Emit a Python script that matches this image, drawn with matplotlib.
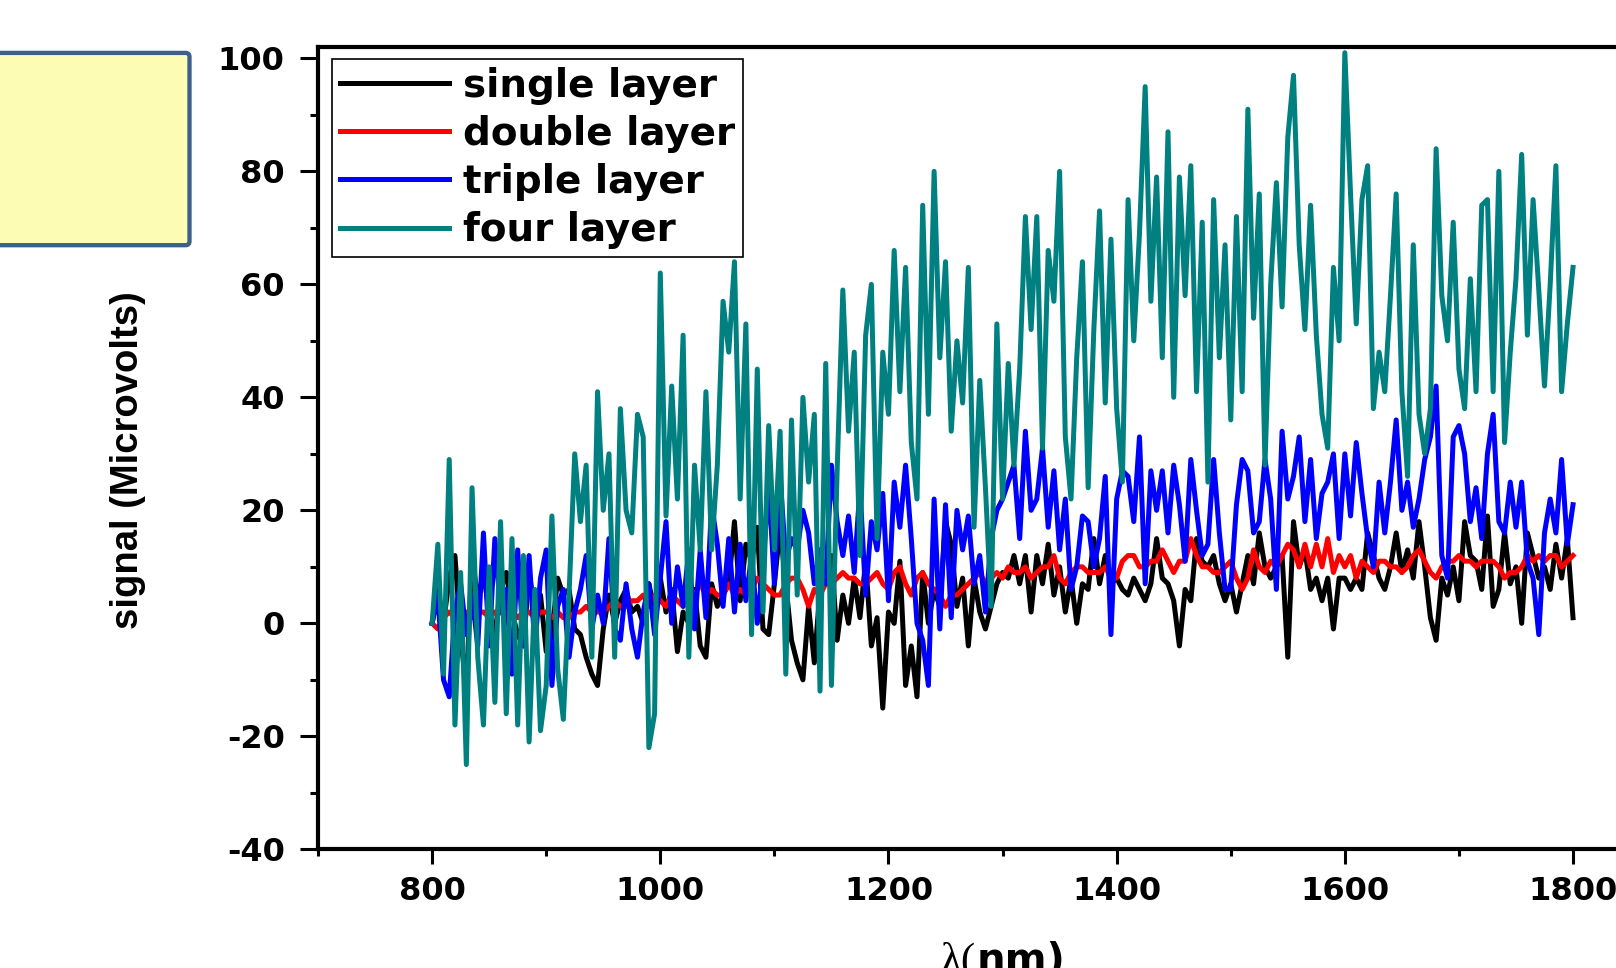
import numpy as np
import matplotlib
matplotlib.use("Agg")
import matplotlib.pyplot as plt
from matplotlib.ticker import MultipleLocator
from matplotlib.patches import FancyBboxPatch

# wavelength grid (nm), values every 5 nm
wavelength = np.arange(800, 1801, 5)

single_layer = [
    0, 6, 0, 8, 12, -2, -12, 12, 4, 9,
    2, -2, 6, 9, 2, -2, -4, 9, 2, 5,
    -5, -2, 8, 5, 6, -1, -2, -6, -9, -11,
    -1, 5, 0, 4, 6, 2, 3, 0, 7, 2,
    8, 2, 6, -5, 2, 0, 6, -4, -6, 7,
    3, 5, 7, 18, 4, 14, 11, 17, -1, -2,
    7, 17, 7, -3, -7, -10, 3, -7, 6, 7,
    12, -3, 5, 0, 8, 1, 11, -4, 1, -15,
    2, 0, 11, -11, -4, -13, 9, 0, 6, 3,
    18, 14, 3, 8, -4, 8, 2, -1, 3, 7,
    9, 8, 12, 7, 12, 2, 12, 7, 14, 5,
    10, 2, 8, 0, 7, 6, 15, 7, 12, 7,
    8, 6, 5, 8, 6, 4, 7, 15, 8, 7,
    4, -4, 6, 4, 15, 11, 10, 12, 7, 4,
    7, 2, 7, 12, 7, 16, 10, 8, 10, 12,
    -6, 18, 10, 13, 6, 8, 4, 8, -1, 8,
    8, 6, 8, 6, 16, 12, 8, 6, 10, 16,
    9, 13, 8, 18, 10, 1, -3, 8, 5, 10,
    4, 18, 12, 11, 6, 19, 3, 6, 16, 7,
    10, 0, 16, 12, 8, 10, 6, 14, 8, 15,
    1,
]

double_layer = [
    0, -1, 1, 2, 1, 0, 2, 1, 2, 2,
    1, 2, 2, 1, 2, 1, 2, 2, 1, 2,
    2, 1, 2, 1, 1, 2, 2, 3, 2, 2,
    2, 3, 4, 3, 3, 4, 4, 5, 3, 5,
    4, 3, 5, 4, 3, 5, 5, 7, 5, 6,
    5, 5, 7, 5, 6, 5, 6, 8, 7, 6,
    5, 5, 7, 8, 8, 6, 3, 6, 5, 7,
    7, 8, 9, 8, 8, 7, 7, 8, 9, 7,
    6, 9, 10, 7, 5, 8, 9, 7, 6, 5,
    3, 5, 5, 6, 7, 8, 9, 7, 8, 9,
    8, 10, 9, 9, 10, 8, 9, 10, 10, 12,
    8, 7, 9, 10, 10, 9, 9, 9, 10, 8,
    8, 11, 12, 12, 10, 10, 11, 11, 13, 11,
    9, 11, 11, 15, 12, 10, 10, 9, 9, 10,
    11, 8, 6, 8, 13, 10, 9, 11, 10, 12,
    14, 13, 10, 14, 10, 14, 10, 15, 9, 12,
    10, 12, 8, 11, 10, 9, 11, 11, 10, 10,
    9, 10, 12, 13, 11, 9, 8, 10, 11, 11,
    12, 11, 11, 10, 11, 11, 11, 10, 8, 9,
    9, 10, 12, 11, 12, 11, 12, 12, 10, 11,
    12,
]

triple_layer = [
    0, 5, -10, -13, 2, 7, -2, 5, -4, 16,
    -4, 15, 2, 6, -9, 13, -4, 12, -4, 8,
    13, -11, 3, 6, -6, 2, 6, 12, -1, 5,
    0, 15, -1, -3, 7, -1, -6, 2, 7, -2,
    8, 18, 0, 10, 3, 13, -1, 13, 1, 21,
    14, 3, 15, 2, 14, 4, 12, 0, 10, 25,
    7, 26, 11, 15, 13, 20, 16, 7, 13, 7,
    28, 18, 12, 19, 9, 24, 5, 18, 13, 23,
    4, 25, 17, 28, 15, 0, -3, -11, 22, -1,
    21, 1, 20, 13, 19, 7, 12, 2, 15, 20,
    22, 25, 28, 15, 34, 20, 22, 31, 17, 27,
    13, 22, 6, 10, 19, 18, 10, 15, 26, -2,
    22, 27, 26, 18, 33, 7, 27, 20, 27, 16,
    28, 21, 11, 29, 20, 12, 14, 29, 16, 6,
    6, 21, 29, 27, 16, 18, 29, 22, 6, 34,
    22, 26, 33, 18, 29, 15, 23, 25, 30, 15,
    30, 19, 32, 23, 15, 10, 25, 16, 25, 36,
    20, 25, 17, 22, 29, 33, 42, 12, 8, 33,
    35, 30, 18, 24, 15, 30, 37, 18, 16, 25,
    17, 25, 11, 8, -2, 16, 22, 16, 29, 14,
    21,
]

four_layer = [
    0, 14, -9, 29, -18, 9, -25, 24, -6, -18,
    10, -14, 18, -16, 15, -18, 12, -21, 6, -19,
    -11, 19, -8, -17, 5, 30, 18, 28, -6, 41,
    20, 30, -6, 38, 20, 16, 37, 33, -22, -16,
    62, 19, 42, 22, 51, -6, 28, 13, 41, 13,
    28, 57, 48, 64, 22, 53, -2, 45, 2, 35,
    13, 34, -9, 36, 5, 40, 25, 37, -12, 46,
    -11, 27, 59, 34, 48, 12, 51, 60, 15, 48,
    37, 66, 41, 63, 32, 22, 74, 37, 80, 47,
    64, 34, 50, 39, 63, 17, 43, 24, 3, 53,
    22, 46, 28, 45, 72, 52, 72, 31, 66, 57,
    80, 33, 22, 47, 64, 24, 52, 73, 39, 68,
    38, 25, 75, 50, 69, 95, 57, 79, 47, 87,
    40, 79, 58, 81, 41, 71, 25, 75, 47, 67,
    36, 72, 41, 91, 54, 76, 28, 60, 78, 56,
    86, 97, 67, 52, 74, 51, 37, 31, 63, 50,
    101, 76, 53, 75, 81, 38, 48, 41, 58, 76,
    41, 26, 67, 37, 30, 38, 84, 58, 50, 71,
    45, 38, 61, 41, 74, 75, 41, 80, 32, 48,
    61, 83, 51, 75, 59, 42, 60, 81, 41, 53,
    63,
]

series_names = ["single layer", "double layer", "triple layer", "four layer"]
series_colors = ["#000000", "#ff0000", "#0000ff", "#008080"]

plt.rcParams["font.family"] = "DejaVu Sans"
plt.rcParams["font.weight"] = "bold"
plt.rcParams["axes.unicode_minus"] = False

fig = plt.figure(figsize=(16.16, 9.68), dpi=100)
ax = fig.add_axes([0.1968, 0.1226, 0.8472, 0.8288])

for values, name, color in zip(
    [single_layer, double_layer, triple_layer, four_layer], series_names, series_colors
):
    ax.plot(wavelength, values, color=color, lw=3.6, label=name)

ax.set_xlim(700, 1900)
ax.set_ylim(-40, 102)
ax.xaxis.set_major_locator(MultipleLocator(200))
ax.xaxis.set_minor_locator(MultipleLocator(100))
ax.yaxis.set_major_locator(MultipleLocator(20))
ax.yaxis.set_minor_locator(MultipleLocator(10))

for spine in ax.spines.values():
    spine.set_linewidth(3.0)
ax.tick_params(which="both", direction="out", width=2.2, labelsize=23)
ax.tick_params(axis="x", which="major", length=11, pad=8)
ax.tick_params(axis="y", which="major", length=13, pad=11)
ax.tick_params(axis="x", which="minor", length=5)
ax.tick_params(axis="y", which="minor", length=6)

ax.set_ylabel("signal (Microvolts)", family="Liberation Sans", weight="bold",
              size=27.5, va="center")
ax.yaxis.set_label_coords(-0.1385, 0.4852)

# x label: serif lambda followed by bold sans unit (cut by the lower edge, as in the source)
ax.text(0.481, -0.153, "\u03bb(", transform=ax.transAxes, ha="right", va="baseline",
        family="Liberation Serif", weight="normal", size=31)
ax.text(0.481, -0.153, "nm)", transform=ax.transAxes, ha="left", va="baseline",
        family="DejaVu Sans", weight="bold", size=29)

leg = ax.legend(loc="upper left", bbox_to_anchor=(0.0102, 0.985), borderaxespad=0,
                prop=dict(family="DejaVu Sans", weight="bold", size=28),
                handlelength=2.8, handletextpad=0.38, labelspacing=0.26,
                borderpad=0.2, fancybox=False, framealpha=1, edgecolor="black")
leg.get_frame().set_linewidth(1.2)

# yellow note box at the top left
box = FancyBboxPatch((-0.2, 7.228), 2.095, 1.923,
                     boxstyle="round,pad=0,rounding_size=0.04",
                     transform=fig.dpi_scale_trans, facecolor="#fcfcb4",
                     edgecolor="#3d5f8c", linewidth=3.1)
fig.add_artist(box)

fig.savefig("out.png", dpi=100)
